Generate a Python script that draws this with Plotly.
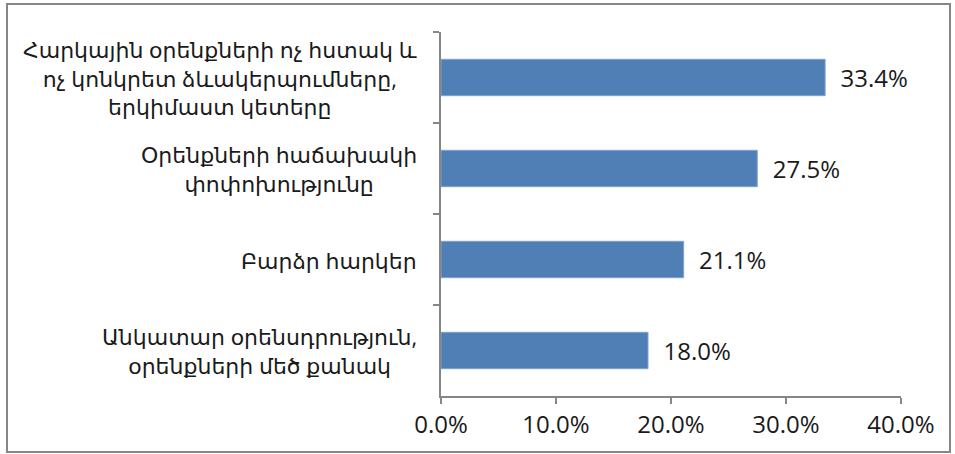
import plotly.graph_objects as go

categories = [
    "Հարկային օրենքների ոչ հստակ և<br>ոչ կոնկրետ ձևակերպումները,<br>երկիմաստ կետերը",
    "Օրենքների հաճախակի<br>փոփոխությունը",
    "Բարձր հարկեր",
    "Անկատար օրենսդրություն,<br>օրենքների մեծ քանակ",
]
values = [33.4, 27.5, 21.1, 18.0]
x_ticks = [0, 10, 20, 30, 40]
x_tick_labels = ["0.0%", "10.0%", "20.0%", "30.0%", "40.0%"]

FONT = "Segoe UI, Open Sans, DejaVu Sans, sans-serif"
GRAY = "#868686"
TXT = "#1a1a1a"

fig = go.Figure()
fig.add_trace(go.Bar(
    y=categories, x=values, orientation="h",
    marker=dict(color="#4F7FB5", line=dict(color="#7FA3CF", width=1)),
    width=0.4,
    text=[f"\u00a0\u00a0{v:.1f}%" for v in values], textposition="outside",
    textfont=dict(family=FONT, size=24, color=TXT),
    cliponaxis=False,
    hoverinfo="skip",
))

for c in categories:
    fig.add_annotation(
        x=0, xref="paper", xanchor="right", xshift=-22,
        y=c, yref="y", yanchor="middle",
        text=c, align="center", showarrow=False,
        font=dict(family=FONT, size=22, color=TXT),
    )

W, H = 955, 454
ml, mr, mt, mb = 441, 54, 32, 58
pw, ph = W - ml - mr, H - mt - mb
fig.add_shape(
    type="rect", xref="paper", yref="paper",
    x0=(7 - ml) / pw, x1=(950 - ml) / pw,
    y0=(H - mb - 452) / ph, y1=(H - mb - 4) / ph,
    line=dict(color=GRAY, width=2), layer="below",
)

fig.update_layout(
    width=W, height=H,
    margin=dict(l=ml, r=mr, t=mt, b=mb),
    plot_bgcolor="white", paper_bgcolor="white",
    showlegend=False,
    font=dict(family=FONT, size=24, color=TXT),
    xaxis=dict(
        range=[0, 40], tickvals=x_ticks, ticktext=x_tick_labels,
        showgrid=False, zeroline=False,
        showline=True, linecolor=GRAY, linewidth=2,
        ticks="outside", ticklen=6, tickcolor=GRAY, tickwidth=2,
        tickfont=dict(family=FONT, size=24, color=TXT),
    ),
    yaxis=dict(
        autorange="reversed", showticklabels=False,
        showgrid=False, zeroline=False,
        showline=True, linecolor=GRAY, linewidth=2,
        ticks="outside", tickson="boundaries", ticklen=6, tickcolor=GRAY, tickwidth=2,
    ),
)

fig.write_html(
    "out.html",
    config={"displayModeBar": False},
    post_script="document.body.style.margin='0';",
)
